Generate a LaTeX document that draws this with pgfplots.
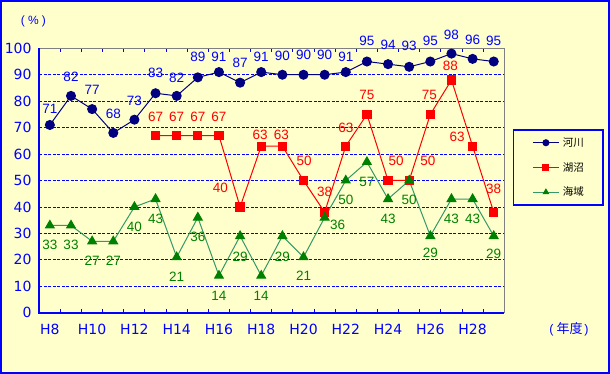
\documentclass[border=0pt]{standalone}
\usepackage{pgfplots}
\usepackage{pgfplotstable}
\pgfplotsset{compat=1.18}
\usepackage{fontspec}
\setmainfont{Liberation Sans}
\newfontfamily\dejavu{DejaVu Sans}
\newfontfamily\cjk{Noto Sans CJK JP}
\definecolor{bgy}{HTML}{FFFFCC}
\definecolor{navy}{HTML}{000080}
\definecolor{blu}{HTML}{0000FF}
\definecolor{rd}{HTML}{FF0000}
\definecolor{dgreen}{HTML}{008000}
\definecolor{sgreen}{HTML}{339966}
\definecolor{frgray}{HTML}{808080}

\pgfplotstableread{
x y dx dy
0 71 0 16
1 82 0 19
2 77 0 19
3 68 0 19.5
4 73 0 19
5 83 0 20
6 82 0 18.3
7 89 0 21
8 91 0 15
9 87 0 19.7
10 91 0 15
11 90 0 18.5
12 90 0 19.5
13 90 0 19.5
14 91 0 15
15 95 0 20.7
16 94 0 19.8
17 93 0 21
18 95 0 20.3
19 98 0 18.7
20 96 0 18.7
21 95 0 20.7
}\tabA

\pgfplotstableread{
x y dx dy
5 67 0 19
6 67 0 19
7 67 0 19
8 67 0 19
9 40 -19.7 19
10 63 -1 11
11 63 -1 11
12 50 0.5 19.5
13 38 0 20
14 63 0 18.5
15 75 0 19
16 50 8 19.5
17 50 18.8 19.5
18 75 -1 19
19 88 -1 14
20 63 -15.5 9.5
21 38 0 23.5
}\tabB

\pgfplotstableread{
x y dx dy
0 33 0 -19.5
1 33 0 -19.5
2 27 0 -19
3 27 0 -19
4 40 0 -20
5 43 0 -20
6 21 0 -19.6
7 36 0 -19.6
8 14 0 -20
9 29 0 -21
10 14 0 -20
11 29 0 -21
12 21 0 -19
13 36 13 -7
14 50 0 -19.7
15 57 0 -20
16 43 0 -20
17 50 0 -19
18 29 0 -17
19 43 0 -20
20 43 0 -20
21 29 0 -18
}\tabC

\pgfplotsset{
  lbl/.style={nodes near coords, point meta=explicit symbolic,
    visualization depends on={\thisrow{dx}\as\dx},
    visualization depends on={\thisrow{dy}\as\dy},
    every node near coord/.append style={anchor=center, xshift=\dx pt, yshift=\dy pt,
      font=\fontsize{13.5}{13.5}\selectfont, text=#1, inner sep=0pt}},
}

\begin{document}
\begin{tikzpicture}[x=1pt,y=1pt]
\useasboundingbox (0,0) rectangle (610,374);
\fill[bgy] (0,0) rectangle (610,374);
\draw[blu, line width=2pt] (1,1) rectangle (609,373);
\node[text=blu, font=\fontsize{12}{12}\selectfont, inner sep=0pt] at (33.4,352.5) {(\hspace{3.2pt}\%\hspace{3.2pt})};
\node[text=blu, font=\fontsize{12.5}{12.5}\selectfont, inner sep=0pt] at (569,44.3) {(\hspace{3pt}{\cjk\fontsize{13}{13}\selectfont 年度}\hspace{1.8pt})};
\begin{axis}[
  at={(39.3pt,61.3pt)}, anchor=south west,
  scale only axis, width=465pt, height=264.4pt,
  xmin=-0.5, xmax=21.5, ymin=0, ymax=100,
  clip=false,
  axis line style={draw=none},
  /pgf/number format/assume math mode=true,
  xtick={0,2,...,20},
  xticklabels={H8,H10,H12,H14,H16,H18,H20,H22,H24,H26,H28},
  minor xtick={0.5,1.5,...,20.5},
  ytick={10,20,...,90},
  extra y ticks={0,100},
  extra y tick style={grid=none},
  major tick length=0pt,
  minor tick length=4pt,
  tick align=inside,
  minor tick style={blu, line width=1pt},
  major tick style={draw=none},
  ymajorgrids,
  grid style={blu, line width=0.8pt, dash pattern=on 3pt off 1.5pt},
  yticklabel style={font=\dejavu\fontsize{14}{14}\selectfont, text=blu, inner sep=0pt, anchor=east, xshift=-7.6pt},
  xticklabel style={font=\dejavu\fontsize{14}{14}\selectfont, text=blu, inner sep=0pt, anchor=north, yshift=-11pt},
  legend style={at={(1.018,0.6936)}, anchor=north west, draw=blu, line width=1.5pt, fill=bgy,
    inner xsep=19pt, inner ysep=7.6pt, row sep=14.5pt, column sep=3.4pt,
    font=\cjk\fontsize{10.5}{10.5}\selectfont, text=black, nodes={inner sep=0pt}},
  legend cell align=left,
  legend image code/.code={\draw[mark repeat=2,mark phase=2,#1] plot coordinates {(0pt,0pt) (13pt,0pt) (26pt,0pt)};},
  legend image post style={mark size=3pt},
]
\addplot[navy, line width=1pt, mark=*, mark size=4.5pt, mark options={fill=navy, draw=navy}, lbl=blu]
  table[x=x, y=y, meta=y]{\tabA};
\addlegendentry{河川}
\addplot[rd, line width=1pt, mark=square*, mark size=4.1pt, mark options={fill=rd, draw=rd}, lbl=rd]
  table[x=x, y=y, meta=y]{\tabB};
\addlegendentry{湖沼}
\addplot[sgreen, line width=1pt, mark=triangle*, mark size=5pt, mark options={fill=dgreen, draw=dgreen}, lbl=dgreen]
  table[x=x, y=y, meta=y]{\tabC};
\addlegendentry{海域}
\draw[frgray, line width=1.5pt] (rel axis cs:0,1) -- (rel axis cs:1,1) -- (rel axis cs:1,0);
\draw[blu, line width=2pt] (rel axis cs:0,1) -- (rel axis cs:0,0) -- (rel axis cs:1,0);
\end{axis}
\end{tikzpicture}
\end{document}
